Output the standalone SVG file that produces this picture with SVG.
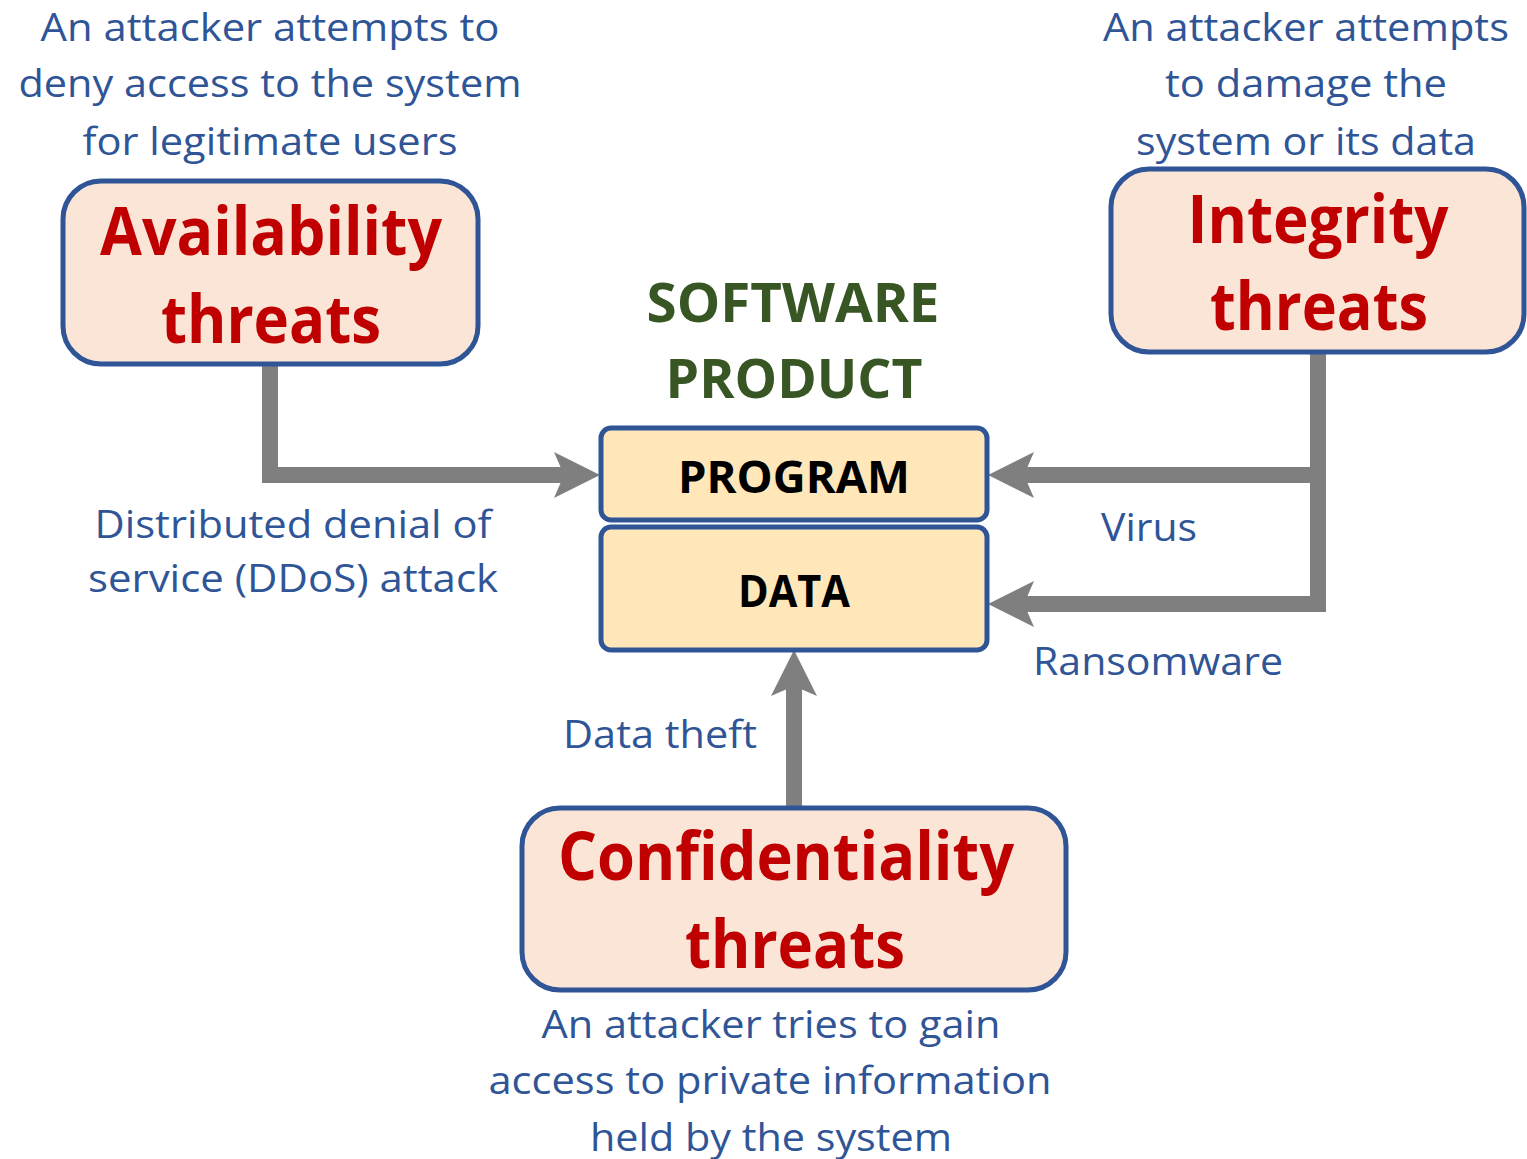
<svg xmlns="http://www.w3.org/2000/svg" width="1527" height="1159" viewBox="0 0 1527 1159">
<style>
.threat{fill:#FBE5D6;stroke:#2F5597;stroke-width:5}
.prod{fill:#FFE7BA;stroke:#2F5597;stroke-width:5}
.t{font-family:"Open Sans","Liberation Sans",sans-serif;text-anchor:middle}
.blue{fill:#2F5597;font-size:38px}
.red{fill:#C00000;font-size:66px;font-weight:bold}
.green{fill:#375623;font-size:54px;font-weight:bold}
.blk{fill:#000;font-size:44px;font-weight:bold}
.conn{fill:none;stroke:#7F7F7F;stroke-width:16;stroke-linejoin:miter;marker-end:url(#ah)}
</style>
<defs>
<marker id="ah" markerUnits="userSpaceOnUse" markerWidth="46" markerHeight="46" viewBox="0 0 46 46" refX="14" refY="23" orient="auto">
<path d="M0,0 L46,23 L0,46 L10,23 Z" fill="#7F7F7F"/>
</marker>
</defs>
<rect width="1527" height="1159" fill="#fff"/>
<g id="connectors">
<path class="conn" d="M270,364 V475 H568"/>
<path class="conn" d="M1326,475 H1020"/>
<path class="conn" d="M1318,352 V604 H1020"/>
<path class="conn" d="M794,808 V682"/>
</g>
<g id="availability">
<rect class="threat" x="63" y="181" width="415" height="183" rx="38"/>
<text class="t red" x="271" y="255" textLength="342" lengthAdjust="spacingAndGlyphs">Availability</text>
<text class="t red" x="271" y="343" textLength="220" lengthAdjust="spacingAndGlyphs">threats</text>
</g>
<g id="integrity">
<rect class="threat" x="1111" y="169" width="413" height="183" rx="38"/>
<text class="t red" x="1318" y="243" textLength="261" lengthAdjust="spacingAndGlyphs">Integrity</text>
<text class="t red" x="1319" y="330" textLength="218" lengthAdjust="spacingAndGlyphs">threats</text>
</g>
<g id="confidentiality">
<rect class="threat" x="522" y="808" width="544" height="182" rx="38"/>
<text class="t red" x="786" y="880" textLength="456" lengthAdjust="spacingAndGlyphs">Confidentiality</text>
<text class="t red" x="795" y="968" textLength="220" lengthAdjust="spacingAndGlyphs">threats</text>
</g>
<g id="software-product">
<text class="t green" x="793" y="322" textLength="293" lengthAdjust="spacingAndGlyphs">SOFTWARE</text>
<text class="t green" x="794" y="398" textLength="257" lengthAdjust="spacingAndGlyphs">PRODUCT</text>
</g>
<g id="program">
<rect class="prod" x="601" y="428" width="386" height="92" rx="10"/>
<text class="t blk" x="794" y="493" textLength="232" lengthAdjust="spacingAndGlyphs">PROGRAM</text>
</g>
<g id="data">
<rect class="prod" x="601" y="527" width="386" height="123" rx="10"/>
<text class="t blk" x="794" y="607" textLength="112" lengthAdjust="spacingAndGlyphs">DATA</text>
</g>
<g id="labels">
<text class="t blue" x="270" y="41" textLength="459" lengthAdjust="spacingAndGlyphs">An attacker attempts to</text>
<text class="t blue" x="270" y="97" textLength="503" lengthAdjust="spacingAndGlyphs">deny access to the system</text>
<text class="t blue" x="270" y="155" textLength="375" lengthAdjust="spacingAndGlyphs">for legitimate users</text>
<text class="t blue" x="1306" y="41" textLength="406" lengthAdjust="spacingAndGlyphs">An attacker attempts</text>
<text class="t blue" x="1306" y="97" textLength="282" lengthAdjust="spacingAndGlyphs">to damage the</text>
<text class="t blue" x="1306" y="155" textLength="340" lengthAdjust="spacingAndGlyphs">system or its data</text>
<text class="t blue" x="293" y="538" textLength="397" lengthAdjust="spacingAndGlyphs">Distributed denial of</text>
<text class="t blue" x="293" y="592" textLength="410" lengthAdjust="spacingAndGlyphs">service (DDoS) attack</text>
<text class="t blue" x="1149" y="541" textLength="96" lengthAdjust="spacingAndGlyphs">Virus</text>
<text class="t blue" x="1158" y="675" textLength="250" lengthAdjust="spacingAndGlyphs">Ransomware</text>
<text class="t blue" x="660" y="748" textLength="194" lengthAdjust="spacingAndGlyphs">Data theft</text>
<text class="t blue" x="771" y="1038" textLength="459" lengthAdjust="spacingAndGlyphs">An attacker tries to gain</text>
<text class="t blue" x="770" y="1094" textLength="563" lengthAdjust="spacingAndGlyphs">access to private information</text>
<text class="t blue" x="771" y="1151" textLength="362" lengthAdjust="spacingAndGlyphs">held by the system</text>
</g>
</svg>
